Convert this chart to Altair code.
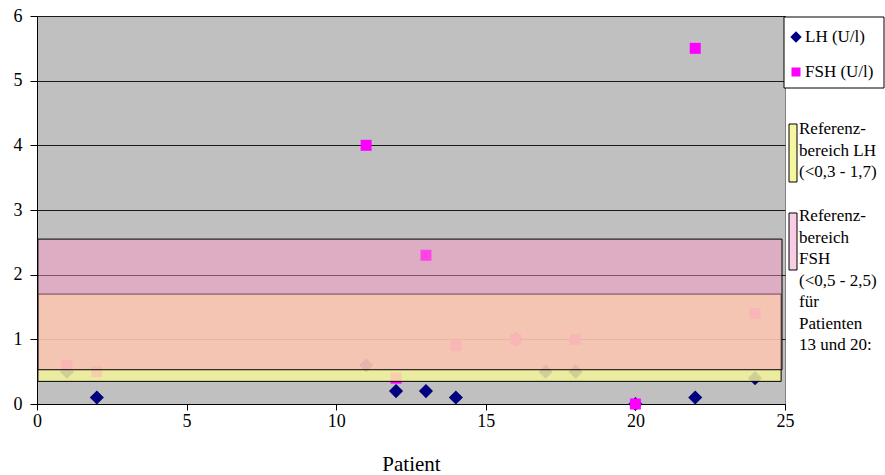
import altair as alt
import pandas as pd

# ---- data ----
lh_patients = [1, 2, 11, 12, 13, 14, 16, 17, 18, 20, 22, 24]
lh_values = [0.5, 0.1, 0.6, 0.2, 0.2, 0.1, 1.0, 0.5, 0.5, 0.0, 0.1, 0.4]
fsh_patients = [1, 2, 11, 12, 13, 14, 16, 18, 20, 22, 24]
fsh_values = [0.6, 0.5, 4.0, 0.4, 2.3, 0.9, 1.0, 1.0, 0.0, 5.5, 1.4]

band_names = ["LH", "FSH"]
band_low = [0.35, 0.53]
band_high = [1.7, 2.55]
band_start = [0.03, 0.03]
band_end = [24.87, 24.9]

x_ticks = [0, 5, 10, 15, 20, 25]
y_ticks = [0, 1, 2, 3, 4, 5, 6]

legend_series = ["LH (U/l)", "FSH (U/l)"]
legend_lh_band = "Referenz-\nbereich LH\n(<0,3 - 1,7)"
legend_fsh_band = "Referenz-\nbereich\nFSH\n(<0,5 - 2,5)\nfür\nPatienten\n13 und 20:"

FONT = "Liberation Serif"
NAVY = "#000080"
MAGENTA = "#ff00ff"

lh_df = pd.DataFrame({"Patient": lh_patients, "Wert": lh_values})
fsh_df = pd.DataFrame({"Patient": fsh_patients, "Wert": fsh_values})
band_df = pd.DataFrame({"name": band_names, "lo": band_low, "hi": band_high,
                        "x0": band_start, "x1": band_end})
dummy = pd.DataFrame({"d": [0]})

xs = alt.Scale(domain=[0, 25], nice=False, zero=False)
ys = alt.Scale(domain=[0, 6], nice=False)

x_axis = alt.Axis(values=x_ticks, grid=False, title="Patient", format="d",
                  titlePadding=23, labelPadding=2, tickSize=6)
y_axis = alt.Axis(values=y_ticks, grid=True, title=None, format="d",
                  labelPadding=8, tickSize=7)

lh_pts = alt.Chart(lh_df).mark_point(shape="diamond", filled=True, size=200,
                                     color=NAVY, opacity=1).encode(
    x=alt.X("Patient:Q", scale=xs, axis=x_axis),
    y=alt.Y("Wert:Q", scale=ys, axis=y_axis),
)
fsh_pts = alt.Chart(fsh_df).mark_point(shape="square", filled=True, size=121,
                                       color=MAGENTA, opacity=1).encode(
    x=alt.X("Patient:Q", scale=xs, axis=x_axis),
    y=alt.Y("Wert:Q", scale=ys, axis=y_axis),
)

yellow_band = alt.Chart(band_df).transform_filter(alt.datum.name == "LH").mark_rect(
    fill="#f3f39a", fillOpacity=0.85, stroke="black", strokeWidth=1).encode(
    x=alt.X("x0:Q", scale=xs, axis=x_axis), x2="x1:Q",
    y=alt.Y("lo:Q", scale=ys, axis=y_axis), y2="hi:Q",
)
pink_band = alt.Chart(band_df).transform_filter(alt.datum.name == "FSH").mark_rect(
    fill="#ff96c8", fillOpacity=0.45, stroke="black", strokeWidth=1).encode(
    x=alt.X("x0:Q", scale=xs, axis=x_axis), x2="x1:Q",
    y=alt.Y("lo:Q", scale=ys, axis=y_axis), y2="hi:Q",
)

# ---- legend (drawn in pixel space to the right of the plot) ----
leg_box = alt.Chart(dummy).mark_rect(fill="white", stroke="black", strokeWidth=1).encode(
    x=alt.value(747), x2=alt.value(847), y=alt.value(1), y2=alt.value(72))
leg_diamond = alt.Chart(dummy).mark_point(shape="diamond", filled=True, size=130,
                                          color=NAVY, opacity=1).encode(
    x=alt.value(759), y=alt.value(21))
leg_square = alt.Chart(dummy).mark_point(shape="square", filled=True, size=81,
                                         color=MAGENTA, opacity=1).encode(
    x=alt.value(759), y=alt.value(56))
txt = dict(align="left", baseline="middle", font=FONT, fontSize=17, color="black")
leg_t1 = alt.Chart(dummy).mark_text(**txt).encode(
    x=alt.value(768), y=alt.value(21), text=alt.value(legend_series[0]))
leg_t2 = alt.Chart(dummy).mark_text(**txt).encode(
    x=alt.value(768), y=alt.value(56), text=alt.value(legend_series[1]))

sw_y = alt.Chart(dummy).mark_rect(fill="#f6f6a0", stroke="black", strokeWidth=1).encode(
    x=alt.value(752), x2=alt.value(760), y=alt.value(108), y2=alt.value(166))
sw_p = alt.Chart(dummy).mark_rect(fill="#f7cde6", stroke="black", strokeWidth=1).encode(
    x=alt.value(752), x2=alt.value(760), y=alt.value(197), y2=alt.value(254))
txt2 = dict(align="left", baseline="top", font=FONT, fontSize=17, color="black",
            lineBreak="\n", lineHeight=21.5)
leg_t3 = alt.Chart(dummy).mark_text(**txt2).encode(
    x=alt.value(762), y=alt.value(105), text=alt.value(legend_lh_band))
leg_t4 = alt.Chart(dummy).mark_text(**txt2).encode(
    x=alt.value(762), y=alt.value(192), text=alt.value(legend_fsh_band))

chart = alt.layer(
    lh_pts, fsh_pts, yellow_band, pink_band,
    leg_box, leg_diamond, leg_square, leg_t1, leg_t2,
    sw_y, sw_p, leg_t3, leg_t4,
).properties(
    width=748, height=388,
    autosize=alt.AutoSizeParams(type="none"),
    padding={"left": 37, "top": 16, "right": 100, "bottom": 71},
    background="white",
).configure(
    font=FONT,
).configure_axis(
    labelFont=FONT, labelFontSize=18, labelColor="black",
    titleFont=FONT, titleFontSize=21, titleFontWeight="normal", titleColor="black",
    tickColor="black", domainColor="black", labelFlush=False,
    gridColor="#1a1a1a", gridWidth=1,
).configure_view(
    fill="#c0c0c0", stroke="#808080", strokeWidth=1,
)

chart.save("out.html", embed_options={"renderer": "svg", "actions": False})
